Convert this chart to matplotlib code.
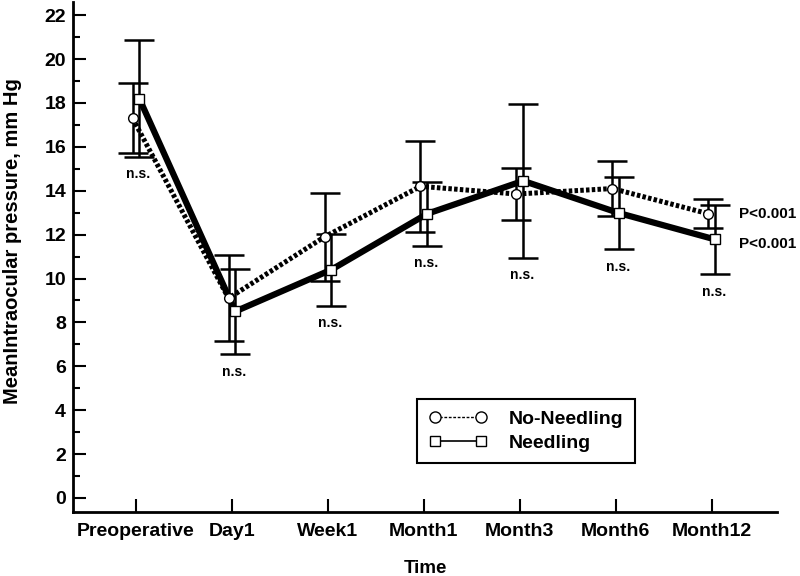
import matplotlib
matplotlib.use("Agg")
import matplotlib.pyplot as plt
from matplotlib.lines import Line2D
from matplotlib.ticker import MultipleLocator
import numpy as np

plt.rcParams["font.family"] = ["Liberation Sans", "DejaVu Sans"]
plt.rcParams["font.weight"] = "bold"

# values
TIMEPOINTS = ["Preoperative", "Day1", "Week1", "Month1", "Month3", "Month6", "Month12"]
NO_NEEDLING_MEAN = [17.3, 9.1, 11.9, 14.2, 13.85, 14.1, 12.95]
NO_NEEDLING_SD = [1.6, 1.97, 2.0, 2.07, 1.2, 1.27, 0.66]
NEEDLING_MEAN = [18.2, 8.5, 10.4, 12.95, 14.45, 12.98, 11.78]
NEEDLING_SD = [2.65, 1.95, 1.64, 1.46, 3.5, 1.64, 1.58]
BETWEEN_GROUPS = ["n.s.", "n.s.", "n.s.", "n.s.", "n.s.", "n.s.", "n.s."]
TREND_P = ["P<0.001", "P<0.001"]  # No-Needling, Needling

x = np.arange(len(TIMEPOINTS))
x_nn = x - 0.035
x_n = x + 0.035

fig = plt.figure(figsize=(8, 5.76), dpi=100)
ax = fig.add_axes([0.09125, 0.1111, 0.88, 0.8854])

# error bars first, markers on top
ax.errorbar(x_nn, NO_NEEDLING_MEAN, yerr=NO_NEEDLING_SD, fmt="none", ecolor="black",
            elinewidth=1.8, capsize=10.8, capthick=1.8, zorder=2)
ax.errorbar(x_n, NEEDLING_MEAN, yerr=NEEDLING_SD, fmt="none", ecolor="black",
            elinewidth=1.8, capsize=10.8, capthick=1.8, zorder=2)

ax.plot(x_nn, NO_NEEDLING_MEAN, color="black", lw=3.6, linestyle=(0, (0.7, 0.45)),
        solid_capstyle="butt", zorder=3)
ax.plot(x_n, NEEDLING_MEAN, color="black", lw=4.5, zorder=3)

ax.plot(x_nn, NO_NEEDLING_MEAN, "o", ms=7, mfc="white", mec="black", mew=1, zorder=5)
ax.plot(x_n, NEEDLING_MEAN, "s", ms=6.5, mfc="white", mec="black", mew=1, zorder=5)

# between-group labels under the lowest cap
lowest = np.minimum(np.array(NO_NEEDLING_MEAN) - np.array(NO_NEEDLING_SD),
                    np.array(NEEDLING_MEAN) - np.array(NEEDLING_SD))
for xi, lo, lab in zip(x, lowest, BETWEEN_GROUPS):
    ax.annotate(lab, (xi + 0.02, lo), xytext=(0, -12.6), textcoords="offset points",
                ha="center", va="center", fontsize=10, fontweight="bold")

ax.annotate(TREND_P[0], (x[-1], NO_NEEDLING_MEAN[-1]), xytext=(19.5, 0),
            textcoords="offset points", ha="left", va="center", fontsize=11, fontweight="bold")
ax.annotate(TREND_P[1], (x[-1], NEEDLING_MEAN[-1]), xytext=(19.5, -3),
            textcoords="offset points", ha="left", va="center", fontsize=11, fontweight="bold")

ax.set_xlim(-0.656, 6.68)
ax.set_ylim(-0.64, 22.6)
ax.set_xticks(x)
ax.set_xticklabels(TIMEPOINTS)
ax.yaxis.set_major_locator(MultipleLocator(2))
ax.yaxis.set_minor_locator(MultipleLocator(1))

ax.tick_params(axis="both", which="major", direction="in", length=9.4, width=1.5,
               labelsize=14, pad=5)
ax.tick_params(axis="y", which="minor", direction="in", length=5, width=1.5)
ax.tick_params(axis="x", which="major", pad=8)

for s in ["top", "right"]:
    ax.spines[s].set_visible(False)
for s in ["left", "bottom"]:
    ax.spines[s].set_linewidth(2)

ax.set_xlabel("Time", fontsize=13.5, fontweight="bold")
ax.set_ylabel("MeanIntraocular pressure, mm Hg", fontsize=14.5, fontweight="bold")
ax.xaxis.set_label_coords(0.5, -0.094)
ax.yaxis.set_label_coords(-0.072, 0.531)

handles = [
    Line2D([0], [0], color="black", lw=1, linestyle=(0, (2, 1.2)), marker="o", ms=8,
           mfc="white", mec="black", mew=1, label="No-Needling"),
    Line2D([0], [0], color="black", lw=1.2, marker="s", ms=7.5,
           mfc="white", mec="black", mew=1, label="Needling"),
]
leg = ax.legend(handles=handles, loc="upper left", bbox_to_anchor=(417 / 800, 1 - 399 / 576),
                bbox_transform=fig.transFigure, borderaxespad=0, numpoints=2,
                handlelength=3.0, handletextpad=1.1, labelspacing=0.3, borderpad=0.6,
                fancybox=False, framealpha=1, edgecolor="black",
                prop={"size": 14, "weight": "bold"})
leg.get_frame().set_linewidth(1.5)

fig.savefig("out.png", dpi=100)
